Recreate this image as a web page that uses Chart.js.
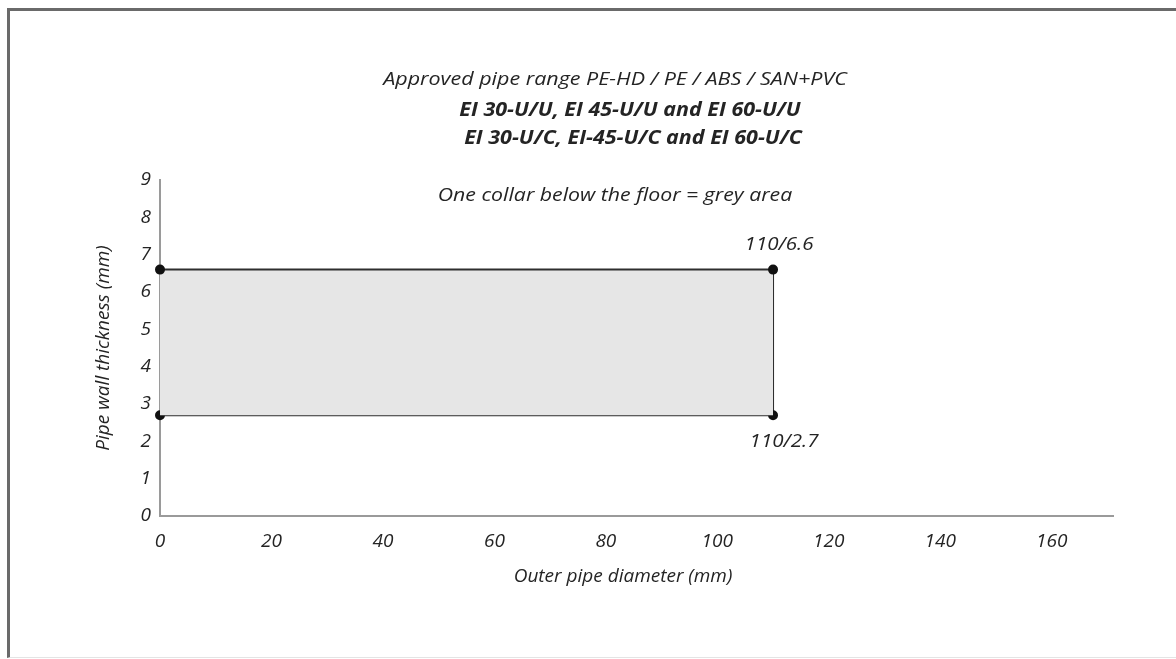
<!DOCTYPE html>
<html>
<head>
<meta charset="utf-8">
<script src="https://cdn.jsdelivr.net/npm/chart.js@4/dist/chart.umd.min.js"></script>
<style>
  html, body { margin:0; padding:0; background:#fff; }
  #wrap { position:relative; width:1176px; height:659px; }
  #frame { position:absolute; left:7px; top:8px; right:0; bottom:1px;
           border-top:3px solid #6a6a6a; border-left:3px solid #6a6a6a; border-bottom:1px solid #e4e4e4; }
  canvas { position:absolute; left:0; top:0; }
</style>
</head>
<body>
<div id="wrap">
  <div id="frame"></div>
  <canvas id="chart" width="1176" height="659"></canvas>
</div>
<script>
// approved range corners: outer diameter (mm) vs wall thickness (mm)
const diameters = [0, 110];
const maxWall = [6.6, 6.6];
const minWall = [2.7, 2.7];
const xTicks = [0, 20, 40, 60, 80, 100, 120, 140, 160];
const yTicks = [0, 1, 2, 3, 4, 5, 6, 7, 8, 9];
const titleLines = [
  "Approved pipe range PE-HD / PE / ABS / SAN+PVC",
  "EI 30-U/U, EI 45-U/U and EI 60-U/U",
  "EI 30-U/C, EI-45-U/C and EI 60-U/C"
];
const note = "One collar below the floor = grey area";
const xTitle = "Outer pipe diameter (mm)";
const yTitle = "Pipe wall thickness (mm)";

const FONT = "'Open Sans', sans-serif";
const INK = "#242424";

const upper = diameters.map((d, i) => ({x:d, y:maxWall[i]}));
const lower = diameters.map((d, i) => ({x:d, y:minWall[i]}));
const last = diameters.length - 1;
const rightEdge = [upper[last], lower[last]];

// text drawn a bit wider, like the original lettering
function wideText(ctx, txt, x, y, sx) {
  ctx.save();
  ctx.translate(x, y);
  ctx.scale(sx, 1);
  ctx.fillText(txt, 0, 0);
  ctx.restore();
}

const textPlugin = {
  id: "texts",
  afterDatasetsDraw(chart) {
    const ctx = chart.ctx;
    const xs = chart.scales.x, ys = chart.scales.y;
    ctx.save();
    ctx.fillStyle = INK;
    ctx.textAlign = "center";
    ctx.textBaseline = "middle";
    ctx.font = "italic 400 19px " + FONT;
    wideText(ctx, titleLines[0], 615, 80, 1.13);
    ctx.font = "italic 700 19px " + FONT;
    wideText(ctx, titleLines[1], 630, 111, 1.13);
    wideText(ctx, titleLines[2], 633, 139, 1.13);
    ctx.font = "italic 400 19px " + FONT;
    wideText(ctx, note, 615, 196, 1.12);
    // axis title under the x axis (slightly left of the plot centre, as in the original)
    wideText(ctx, xTitle, 623, 577, 1.0);
    // corner labels
    const cx = xs.getPixelForValue(diameters[last]);
    wideText(ctx, diameters[last] + "/" + maxWall[last], cx + 6, ys.getPixelForValue(maxWall[last]) - 25, 1.08);
    wideText(ctx, diameters[last] + "/" + minWall[last], cx + 11, ys.getPixelForValue(minWall[last]) + 26, 1.08);
    ctx.restore();
  }
};

const lineStyle = {
  showLine: true, borderColor: "#2e2e2e", borderWidth: 2,
  pointRadius: 4, pointBackgroundColor: "#111", pointBorderColor: "#111",
  clip: false, tension: 0
};

const tickFont = { family: FONT, size: 19, style: "italic" };

new Chart(document.getElementById("chart"), {
  type: "scatter",
  data: {
    datasets: [
      Object.assign({label:"max", data: upper, fill: "+1", backgroundColor: "rgb(230,230,230)"}, lineStyle),
      Object.assign({label:"min", data: lower, fill: false}, lineStyle),
      Object.assign({label:"edge", data: rightEdge, fill: false}, lineStyle, {pointRadius: 0})
    ]
  },
  options: {
    responsive: false,
    animation: false,
    layout: { padding: { top: 180, right: 63, left: 92, bottom: 71 } },
    plugins: { legend: { display: false }, tooltip: { enabled: false } },
    scales: {
      x: {
        type: "linear", min: 0, max: 171,
        afterFit(s) { s.height = 72; },
        afterBuildTicks(s) { s.ticks = xTicks.map(v => ({value: v})); },
        grid: { display: false, drawTicks: false },
        border: { display: true, color: "#9a9a9a", width: 2 },
        ticks: { padding: 14, color: INK, font: tickFont },
        title: { display: false }
      },
      y: {
        type: "linear", min: 0, max: 9,
        afterFit(s) { s.width = 68; },
        afterBuildTicks(s) { s.ticks = yTicks.map(v => ({value: v})); },
        grid: { display: false, drawTicks: false },
        border: { display: true, color: "#9a9a9a", width: 2 },
        ticks: { padding: 9, color: INK, font: tickFont },
        title: { display: true, text: yTitle, color: INK, padding: 0, font: tickFont }
      }
    }
  },
  plugins: [textPlugin]
});
</script>
</body>
</html>
